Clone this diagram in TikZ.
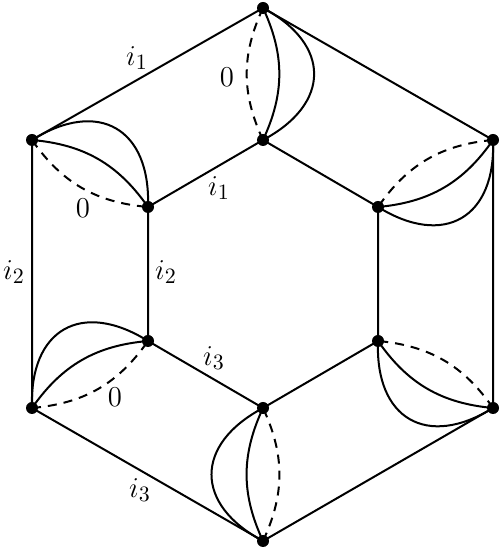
\documentclass[tikz,border=0pt]{standalone}
\begin{document}
\begin{tikzpicture}[x=0.5pt,y=0.5pt,
  dot/.style={circle,fill,inner sep=0pt,minimum size=6pt},
  edge/.style={line width=1pt},
  dsh/.style={line width=1pt,dash pattern=on 4.5pt off 3.5pt},
  lbl/.style={font=\fontsize{15.5}{18}\selectfont,inner sep=0pt}]
\useasboundingbox (0,0) rectangle (503,549);
% outer vertices
\node[dot] (OT)  at (263,541) {};
\node[dot] (OUR) at (493,409) {};
\node[dot] (OLR) at (493,141) {};
\node[dot] (OB)  at (263,8) {};
\node[dot] (OLL) at (32,141) {};
\node[dot] (OUL) at (32,409) {};
% inner vertices
\node[dot] (IT)  at (263,409) {};
\node[dot] (IUR) at (378,342) {};
\node[dot] (ILR) at (378,208) {};
\node[dot] (IB)  at (263,141) {};
\node[dot] (ILL) at (148,208) {};
\node[dot] (IUL) at (148,342) {};
% hexagons
\draw[edge] (OT.center) -- (OUR.center) -- (OLR.center) -- (OB.center) -- (OLL.center) -- (OUL.center) -- cycle;
\draw[edge] (IT.center) -- (IUR.center) -- (ILR.center) -- (IB.center) -- (ILL.center) -- (IUL.center) -- cycle;
% spokes
\foreach \a/\b in {OT/IT,OUR/IUR,OLR/ILR,OB/IB,OLL/ILL,OUL/IUL}{
  \draw[dsh] (\a.center) to[bend right=25] (\b.center);
  \draw[edge] (\a.center) to[bend left=25] (\b.center);
  \draw[edge] (\a.center) to[bend left=62,looseness=1.5] (\b.center);
}
% labels
\node[lbl] (l1) at (137,491) {$i_1$};
\node[lbl] (l2) at (227,472) {$0$};
\node[lbl] (l3) at (83,341) {$0$};
\node[lbl] (l4) at (219,361) {$i_1$};
\node[lbl] (l5) at (14,277) {$i_2$};
\node[lbl] (l6) at (166,277) {$i_2$};
\node[lbl] (l7) at (214,191) {$i_3$};
\node[lbl] (l8) at (115,152) {$0$};
\node[lbl] (l9) at (140,59) {$i_3$};
\end{tikzpicture}
\end{document}
